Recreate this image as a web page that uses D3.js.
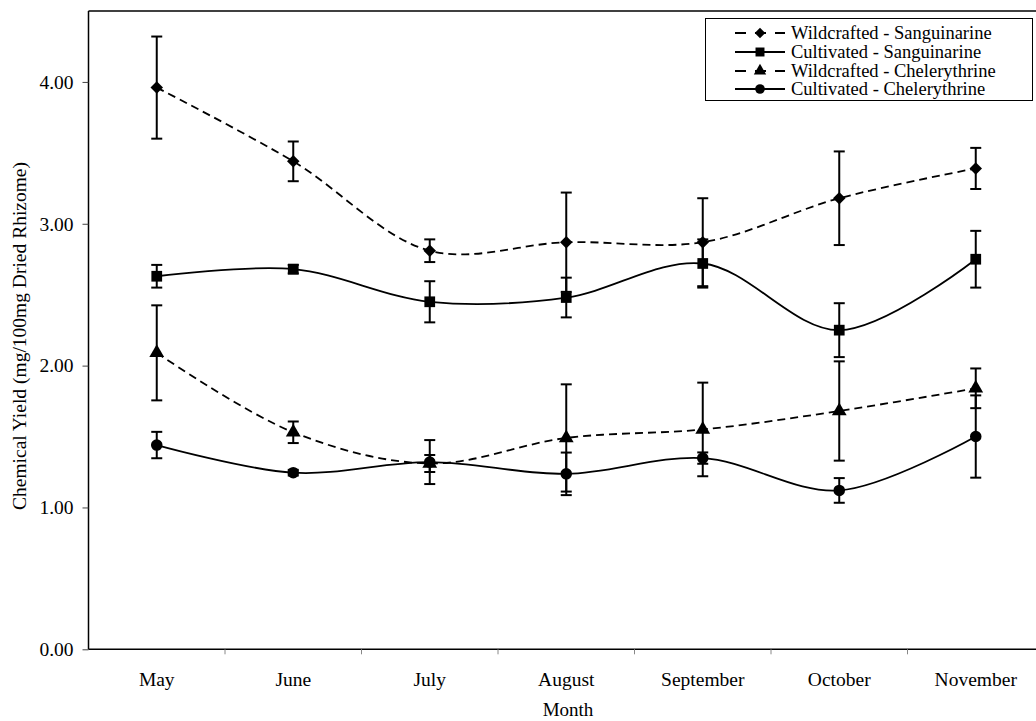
<!DOCTYPE html>
<html><head><meta charset="utf-8">
<script src="https://cdn.jsdelivr.net/npm/d3@7/dist/d3.min.js"></script>
<style>body{margin:0;background:#fff}svg{display:block}text{font-family:'Liberation Serif','Times New Roman',Times,serif}</style>
</head><body><svg id="c" width="1036" height="721"></svg>
<script>
const months = ["May","June","July","August","September","October","November"];
const yTicks = [0,1,2,3,4];
const seriesNames = ["Wildcrafted - Sanguinarine","Cultivated - Sanguinarine","Wildcrafted - Chelerythrine","Cultivated - Chelerythrine"];
const wildSang = [3.96,3.44,2.81,2.87,2.87,3.18,3.39];
const wildSangErr = [0.36,0.14,0.08,0.35,0.31,0.33,0.145];
const cultSang = [2.63,2.68,2.45,2.48,2.72,2.25,2.75];
const cultSangErr = [0.08,0.03,0.145,0.14,0.17,0.19,0.2];
const wildChel = [2.09,1.53,1.31,1.49,1.55,1.68,1.84];
const wildChelErr = [0.335,0.076,0.06,0.378,0.33,0.35,0.14];
const cultChel = [1.44,1.245,1.32,1.237,1.348,1.12,1.50];
const cultChelErr = [0.093,0.02,0.155,0.15,0.04,0.087,0.29];

const svg = d3.select("#c");
const L=88.5, R=1044, T=11, B=649.3;
const x = d3.scaleBand().domain(months).range([L,R]);
const y = d3.scaleLinear().domain([0,4.5]).range([B,T]);
const cx = m => x(m)+x.bandwidth()/2;
const FONT = "'Liberation Serif','Times New Roman',Times,serif";

const series = [
  {name:seriesNames[0], v:wildSang, e:wildSangErr, dash:"8,5", sym:"diamond"},
  {name:seriesNames[1], v:cultSang, e:cultSangErr, dash:null, sym:"square"},
  {name:seriesNames[2], v:wildChel, e:wildChelErr, dash:"8,5", sym:"triangle"},
  {name:seriesNames[3], v:cultChel, e:cultChelErr, dash:null, sym:"circle"}
];
const symType = {diamond:d3.symbolSquare, square:d3.symbolSquare, triangle:d3.symbolTriangle, circle:d3.symbolCircle};
const symSize = {diamond:78, square:115, triangle:95, circle:105};
const symRot = {diamond:45, square:0, triangle:0, circle:0};

svg.append("line").attr("x1",L).attr("x2",1036).attr("y1",T).attr("y2",T).attr("stroke","#000").attr("stroke-width",1.5);
const ya = svg.append("g").attr("transform",`translate(${L},0)`)
  .call(d3.axisLeft(y).tickValues(yTicks).tickFormat(d3.format(".2f")).tickSize(6).tickPadding(9).tickSizeOuter(0));
ya.attr("font-family",FONT);
ya.select(".domain").attr("stroke","#000").attr("stroke-width",1.5).attr("d",`M0,${T}V${B}`);
ya.selectAll("text").attr("font-size",19.5).attr("fill","#000");
ya.selectAll(".tick line").attr("stroke","#444");
const xa = svg.append("g").attr("transform",`translate(0,${B})`)
  .call(d3.axisBottom(x).tickSize(0).tickPadding(23));
xa.attr("font-family",FONT);
xa.select(".domain").attr("stroke","#000").attr("stroke-width",1.5).attr("d",`M${L},0H1036`);
xa.selectAll("text").attr("font-size",19.5).attr("fill","#000");
svg.append("g").selectAll("line").data(months.slice(1)).join("line")
  .attr("x1",d=>x(d)).attr("x2",d=>x(d)).attr("y1",B).attr("y2",B+5).attr("stroke","#888").attr("stroke-width",1);

svg.append("text").attr("x",568).attr("y",716).attr("text-anchor","middle").attr("font-size",19).text("Month");
svg.append("text").attr("transform",`translate(26,336) rotate(-90)`).attr("text-anchor","middle").attr("font-size",19.5).text("Chemical Yield (mg/100mg Dried Rhizome)");

const line = d3.line().x((d,i)=>cx(months[i])).y(d=>y(d)).curve(d3.curveCatmullRom.alpha(0.5));

series.forEach(s=>{
  const g = svg.append("g");
  g.append("path").attr("d",line(s.v)).attr("fill","none").attr("stroke","#000").attr("stroke-width",1.8)
    .attr("stroke-dasharray",s.dash);
  s.v.forEach((v,i)=>{
    const px=cx(months[i]), top=y(v+s.e[i]), bot=y(v-s.e[i]);
    g.append("line").attr("x1",px).attr("x2",px).attr("y1",top).attr("y2",bot).attr("stroke","#000").attr("stroke-width",2);
    [top,bot].forEach(yy=>g.append("line").attr("x1",px-5.5).attr("x2",px+5.5).attr("y1",yy).attr("y2",yy).attr("stroke","#000").attr("stroke-width",2));
    g.append("path").attr("d",d3.symbol().type(symType[s.sym]).size(symSize[s.sym])())
      .attr("transform",`translate(${px},${y(v)}) rotate(${symRot[s.sym]})`).attr("fill","#000");
  });
});

const lg = svg.append("g");
lg.append("rect").attr("x",705.5).attr("y",18.5).attr("width",327).attr("height",82).attr("fill","#fff").attr("stroke","#000").attr("stroke-width",1);
const ly = [33,52,71,89];
series.forEach((s,i)=>{
  lg.append("line").attr("x1",735).attr("x2",785).attr("y1",ly[i]).attr("y2",ly[i]).attr("stroke","#000").attr("stroke-width",1.8)
    .attr("stroke-dasharray",s.dash?"11,9":null);
  lg.append("path").attr("d",d3.symbol().type(symType[s.sym]).size(symSize[s.sym]*0.7)()).attr("transform",`translate(760,${ly[i]}) rotate(${symRot[s.sym]})`).attr("fill","#000");
  lg.append("text").attr("x",791).attr("y",ly[i]+6).attr("font-size",18.5).text(s.name);
});
</script></body></html>
